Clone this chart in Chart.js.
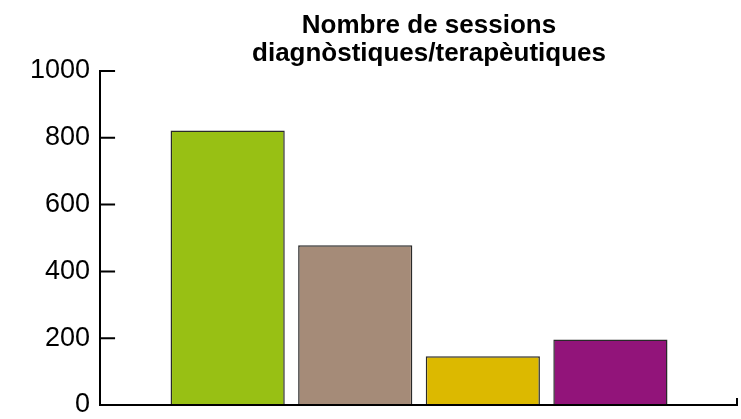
<!DOCTYPE html>
<html>
<head>
<meta charset="utf-8">
<script src="https://cdn.jsdelivr.net/npm/chart.js@4"></script>
<style>
  html, body { margin: 0; padding: 0; background: #fff; }
  #wrap { width: 741px; height: 419px; }
</style>
</head>
<body>
<div id="wrap"><canvas id="sessions"></canvas></div>
<script>
// Data
const titleLines = ['Nombre de sessions', 'diagnòstiques/terapèutiques'];
const categories = ['Cat. 1', 'Cat. 2', 'Cat. 3', 'Cat. 4'];
const sessions   = [822, 478, 146, 196];
const barColors  = ['#98c014', '#a58b78', '#dcb900', '#92147a'];
const yTicks     = [0, 200, 400, 600, 800, 1000];

const FONT = "'Liberation Sans', Arial, sans-serif";

// empty slot on each side so the bars sit at positions 1..4 of a 0..5 axis
const labels = [''].concat(categories, ['']);
const values = [null].concat(sessions, [null]);
const colors = ['#fff'].concat(barColors, ['#fff']);

// x axis line, inside ticks and title drawn by hand
const decorPlugin = {
  id: 'decor',
  afterDraw(chart) {
    const ctx = chart.ctx;
    const y = chart.scales.y;
    const area = chart.chartArea;
    const y0 = y.getPixelForValue(0);
    ctx.save();
    ctx.strokeStyle = '#000';
    ctx.lineWidth = 2;
    ctx.beginPath();
    yTicks.forEach(v => {
      const py = y.getPixelForValue(v);
      ctx.moveTo(area.left, py);
      ctx.lineTo(area.left + 15, py);
    });
    ctx.moveTo(area.left - 1, y0);
    ctx.lineTo(area.right, y0);
    ctx.moveTo(area.right - 1, y0 + 1);
    ctx.lineTo(area.right - 1, y0 - 7);
    ctx.stroke();

    ctx.fillStyle = '#000';
    ctx.font = 'bold 26px ' + FONT;
    ctx.textAlign = 'center';
    ctx.textBaseline = 'alphabetic';
    titleLines.forEach((t, i) => ctx.fillText(t, 429, 33 + i * 28));
    ctx.restore();
  }
};

new Chart(document.getElementById('sessions'), {
  type: 'bar',
  data: {
    labels,
    datasets: [{
      data: values,
      backgroundColor: colors,
      borderColor: '#2a2a2a',
      borderWidth: 1.5,
      borderSkipped: 'bottom',
      categoryPercentage: 1,
      barPercentage: 0.895,
    }],
  },
  options: {
    responsive: true,
    maintainAspectRatio: false,
    animation: false,
    layout: { padding: { left: 20, right: 3, top: 71, bottom: 14 } },
    plugins: {
      legend: { display: false },
      title: { display: false },
      tooltip: { enabled: false },
    },
    scales: {
      x: {
        display: false,
        offset: false,
      },
      y: {
        min: 0,
        max: 1000,
        afterBuildTicks: s => { s.ticks = yTicks.map(v => ({ value: v })); },
        afterFit: s => { s.paddingTop = 0; s.paddingBottom = 0; },
        grid: { display: false, drawTicks: false },
        border: { display: true, color: '#000', width: 2 },
        ticks: {
          color: '#000',
          padding: 10,
          font: { family: FONT, size: 27, lineHeight: 1 },
          callback: v => String(v),
        },
      },
    },
  },
  plugins: [decorPlugin],
});
</script>
</body>
</html>
